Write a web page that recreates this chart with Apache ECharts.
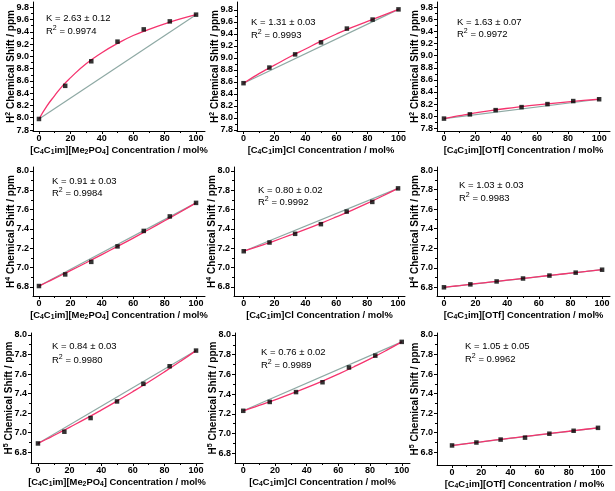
<!DOCTYPE html>
<html><head><meta charset="utf-8">
<script src="https://cdn.jsdelivr.net/npm/echarts@6/dist/echarts.min.js"></script>
<style>html,body{margin:0;padding:0;background:#fff}#c{width:615px;height:491px}</style>
</head><body><div id="c"></div>
<script>
// ---------------- data ----------------
const xConc = [0, 16.7, 33.3, 50, 66.7, 83.3, 100];
const xFit = [0, 5, 10, 15, 20, 30, 40, 50, 60, 70, 80, 90, 100];
const xTicks = [0, 20, 40, 60, 80, 100];
const xMinorTicks = [10, 30, 50, 70, 90];
const yTicksH2 = [7.8, 8.0, 8.2, 8.4, 8.6, 8.8, 9.0, 9.2, 9.4, 9.6, 9.8];
const yMinorH2 = [7.9, 8.1, 8.3, 8.5, 8.7, 8.9, 9.1, 9.3, 9.5, 9.7];
const yTicksH45 = [6.8, 7.0, 7.2, 7.4, 7.6, 7.8, 8.0];
const yMinorH45 = [6.9, 7.1, 7.3, 7.5, 7.7, 7.9];

// H2
const h2Me2PO4    = [7.98, 8.52, 8.92, 9.24, 9.44, 9.57, 9.68];
const h2Me2PO4Fit = [7.98, 8.19, 8.36, 8.52, 8.65, 8.88, 9.06, 9.21, 9.34, 9.44, 9.53, 9.61, 9.68];
const h2Cl        = [8.58, 8.84, 9.06, 9.26, 9.49, 9.64, 9.81];
const h2ClFit     = [8.58, 8.66, 8.74, 8.81, 8.88, 9.02, 9.15, 9.28, 9.40, 9.51, 9.61, 9.71, 9.81];
const h2OTf       = [7.96, 8.03, 8.10, 8.15, 8.20, 8.25, 8.28];
const h2OTfFit    = [7.96, 7.985, 8.009, 8.031, 8.053, 8.092, 8.127, 8.158, 8.187, 8.213, 8.237, 8.26, 8.28];
// H4
const h4Me2PO4    = [6.81, 6.93, 7.06, 7.22, 7.38, 7.53, 7.67];
const h4Me2PO4Fit = [6.81, 6.849, 6.889, 6.929, 6.969, 7.051, 7.135, 7.22, 7.306, 7.395, 7.485, 7.576, 7.67];
const h4Cl        = [7.17, 7.26, 7.35, 7.45, 7.58, 7.68, 7.82];
const h4ClFit     = [7.17, 7.196, 7.223, 7.25, 7.278, 7.336, 7.396, 7.459, 7.525, 7.593, 7.665, 7.741, 7.82];
const h4OTf       = [6.80, 6.83, 6.86, 6.89, 6.92, 6.95, 6.98];
const h4OTfFit    = [6.80, 6.809, 6.818, 6.828, 6.837, 6.855, 6.873, 6.891, 6.909, 6.927, 6.945, 6.962, 6.98];
// H5
const h5Me2PO4    = [6.89, 7.01, 7.15, 7.32, 7.50, 7.68, 7.84];
const h5Me2PO4Fit = [6.89, 6.93, 6.971, 7.013, 7.055, 7.141, 7.231, 7.324, 7.42, 7.519, 7.622, 7.729, 7.84];
const h5Cl        = [7.23, 7.32, 7.42, 7.52, 7.67, 7.79, 7.93];
const h5ClFit     = [7.23, 7.257, 7.285, 7.313, 7.342, 7.402, 7.465, 7.532, 7.603, 7.678, 7.757, 7.841, 7.93];
const h5OTf       = [6.87, 6.90, 6.93, 6.95, 6.99, 7.02, 7.05];
const h5OTfFit    = [6.87, 6.879, 6.889, 6.898, 6.907, 6.926, 6.944, 6.962, 6.98, 6.998, 7.015, 7.033, 7.05];

const kTexts  = ['2.63 ± 0.12', '1.31 ± 0.03', '1.63 ± 0.07',
                 '0.91 ± 0.03', '0.80 ± 0.02', '1.03 ± 0.03',
                 '0.84 ± 0.03', '0.76 ± 0.02', '1.05 ± 0.05'];
const r2Texts = ['0.9974', '0.9993', '0.9972',
                 '0.9984', '0.9992', '0.9983',
                 '0.9980', '0.9989', '0.9962'];
const protons = ['2', '4', '5'];
const saltNames = ['[C{sub|4}C{sub|1}im][Me{sub|2}PO{sub|4}]', '[C{sub|4}C{sub|1}im]Cl', '[C{sub|4}C{sub|1}im][OTf]'];

const pointSets = [h2Me2PO4, h2Cl, h2OTf, h4Me2PO4, h4Cl, h4OTf, h5Me2PO4, h5Cl, h5OTf];
const fitSets = [h2Me2PO4Fit, h2ClFit, h2OTfFit, h4Me2PO4Fit, h4ClFit, h4OTfFit, h5Me2PO4Fit, h5ClFit, h5OTfFit];

// ---------------- layout (pixels / axis ranges) ----------------
const boxes = [
  [33, 2, 172, 129], [237, 2, 168, 129], [437, 2, 173, 129],
  [33, 167, 172, 129], [234, 167, 171, 129], [437, 167, 173, 129],
  [31, 333, 172, 130], [235, 333, 175, 130], [437, 333, 175, 132]
];
const xRanges = [[-3.8, 105.7], [-4.2, 104.2], [-4.5, 107],
                 [-3.8, 105.7], [-6.3, 104.5], [-4.4, 105],
                 [-4.4, 104.4], [-5.2, 105.2], [-10.3, 109.6]];
const yRanges = [[7.784, 9.886], [7.783, 9.933], [7.755, 9.888],
                 [6.707, 8.041], [6.707, 8.041], [6.711, 8.031],
                 [6.69, 8.02], [6.70, 8.02], [6.67, 8.02]];
const kPos = [[46, 19, 33], [251, 23, 37], [457, 23, 36],
              [52, 182, 195], [258, 191, 204], [459, 186, 200],
              [52, 347, 362], [261, 353, 367], [465, 347, 361]];

const FONT = 'Liberation Sans, Arial, sans-serif';
const RED = '#f5336e';
const GREY = '#8ea9a4';

const grid = [], xAxis = [], yAxis = [], series = [], graphic = [];
for (let i = 0; i < 9; i++) {
  const row = Math.floor(i / 3), col = i % 3;
  const b = boxes[i];
  grid.push({left: b[0], top: b[1], width: b[2], height: b[3], containLabel: false});
  const yT = row === 0 ? yTicksH2 : yTicksH45;
  const yM = row === 0 ? yMinorH2 : yMinorH45;
  xAxis.push({
    type: 'value', gridIndex: i, position: 'bottom', min: xRanges[i][0], max: xRanges[i][1],
    axisLine: {show: true, onZero: false, lineStyle: {color: '#000', width: 1}},
    axisTick: {show: true, inside: false, length: 3, customValues: xTicks, lineStyle: {color: '#000'}},
    axisLabel: {customValues: xTicks, margin: 3, color: '#000', fontFamily: FONT, fontWeight: 'bold', fontSize: 9},
    splitLine: {show: false},
    name: saltNames[col] + ' Concentration / mol%',
    nameLocation: 'middle', nameGap: 13, nameMoveOverlap: false,
    nameTextStyle: {color: '#000', fontFamily: FONT, fontWeight: 'bold', fontSize: 9.4,
      rich: {sub: {fontSize: 6.8, fontWeight: 'bold', fontFamily: FONT, color: '#000', padding: [5, 0, 0, 0]}}}
  });
  xAxis.push({
    type: 'value', gridIndex: i, position: 'bottom', offset: 0, min: xRanges[i][0], max: xRanges[i][1],
    axisLine: {show: false, onZero: false},
    axisTick: {show: true, length: 2, customValues: xMinorTicks, lineStyle: {color: '#000'}},
    axisLabel: {show: false}, splitLine: {show: false}
  });
  yAxis.push({
    type: 'value', gridIndex: i, position: 'left', min: yRanges[i][0], max: yRanges[i][1],
    axisLine: {show: true, onZero: false, lineStyle: {color: '#000', width: 1}},
    axisTick: {show: true, length: 3, customValues: yT, lineStyle: {color: '#000'}},
    axisLabel: {customValues: yT, margin: 4, color: '#000', fontFamily: FONT, fontWeight: 'bold', fontSize: 9,
      formatter: v => Number(v).toFixed(1)},
    splitLine: {show: false},
    name: 'H{sup|' + protons[row] + '} Chemical Shift / ppm',
    nameLocation: 'middle', nameGap: 16, nameMoveOverlap: false,
    nameTextStyle: {color: '#000', fontFamily: FONT, fontWeight: 'bold', fontSize: 10,
      rich: {sup: {fontSize: 7, fontWeight: 'bold', fontFamily: FONT, color: '#000', padding: [0, 0, 5, 0]}}}
  });
  yAxis.push({
    type: 'value', gridIndex: i, position: 'left', offset: 0, min: yRanges[i][0], max: yRanges[i][1],
    axisLine: {show: false, onZero: false},
    axisTick: {show: true, length: 2, customValues: yM, lineStyle: {color: '#000'}},
    axisLabel: {show: false}, splitLine: {show: false}
  });
  const pts = pointSets[i];
  const fit = fitSets[i];
  const n = pts.length - 1;
  series.push({
    type: 'line', xAxisIndex: 2 * i, yAxisIndex: 2 * i, symbol: 'none', silent: true,
    data: [[xConc[0], pts[0]], [xConc[n], pts[n]]],
    lineStyle: {color: GREY, width: 1.2}, z: 2
  });
  series.push({
    type: 'line', xAxisIndex: 2 * i, yAxisIndex: 2 * i, symbol: 'none', smooth: true, silent: true,
    data: xFit.map((x, k) => [x, fit[k]]),
    lineStyle: {color: RED, width: 1.3}, z: 3
  });
  series.push({
    type: 'scatter', xAxisIndex: 2 * i, yAxisIndex: 2 * i, symbol: 'rect', symbolSize: 4.5,
    data: xConc.map((x, k) => [x, pts[k]]),
    itemStyle: {color: '#000'}, z: 4
  });
  const kp = kPos[i];
  graphic.push({type: 'text', left: kp[0], top: kp[1] - 6, silent: true,
    style: {text: 'K = ' + kTexts[i], fill: '#000', font: '9.5px ' + FONT}});
  graphic.push({type: 'text', left: kp[0], top: kp[2] - 8, silent: true,
    style: {text: 'R{sup|2} = ' + r2Texts[i], fill: '#000', font: '9.5px ' + FONT,
      rich: {sup: {fontSize: 7, fontFamily: FONT, fill: '#000', padding: [0, 0, 5, 0]}}}});
}

const chart = echarts.init(document.getElementById('c'), null, {renderer: 'canvas'});
chart.setOption({animation: false, backgroundColor: '#fff', grid, xAxis, yAxis, series, graphic});
</script></body></html>
